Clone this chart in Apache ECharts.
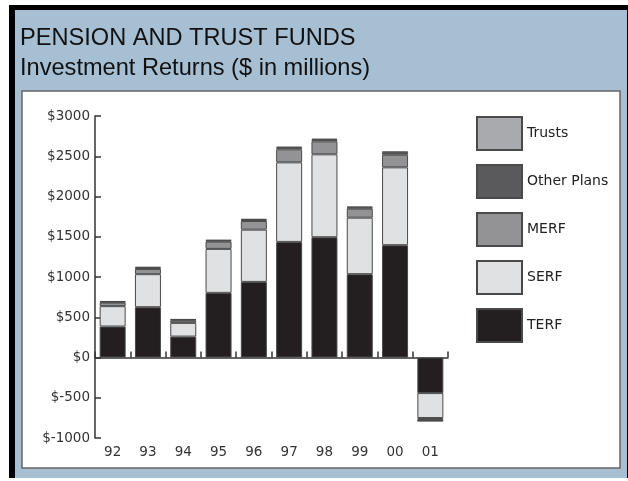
<!DOCTYPE html>
<html>
<head>
<meta charset="utf-8">
<script src="https://cdn.jsdelivr.net/npm/echarts@6/dist/echarts.min.js"></script>
<style>
html,body{margin:0;padding:0;background:#fff;}
#c{width:628px;height:481px;}
</style>
</head>
<body>
<div id="c"></div>
<script>
var years = ['92','93','94','95','96','97','98','99','00','01'];
var terf   = [385, 625, 260, 803, 939, 1436, 1494, 1035, 1395, -442];
var serf   = [253, 410, 170, 546, 649, 988, 1030, 702, 967, -310];
var merf   = [44, 65, 29, 91, 108, 162, 161, 112, 157, -25];
var other  = [10, 15, 10, 12, 15, 20, 20, 15, 30, -8];
var trusts = [8, 10, 7, 8, 10, 12, 12, 9, 7, -5];
var yTicks = [-1000, -500, 0, 500, 1000, 1500, 2000, 2500, 3000];

var font = 'DejaVu Sans';
var chart = echarts.init(document.getElementById('c'));

function s(name, data, color) {
  return {
    name: name, type: 'bar', stack: 'all', data: data, barWidth: 26,
    xAxisIndex: 0,
    itemStyle: { color: color, borderColor: '#4a4a4a', borderWidth: 1 }
  };
}

chart.setOption({
  animation: false,
  graphic: [
    { type: 'rect', z: -10, shape: { x: 9, y: 5, width: 619, height: 476 }, style: { fill: '#000' } },
    { type: 'rect', z: -9, shape: { x: 15, y: 10, width: 612, height: 468 }, style: { fill: '#a7bfd3' } },
    { type: 'rect', z: -8, shape: { x: 22, y: 91, width: 598, height: 377 }, style: { fill: '#fff', stroke: '#666', lineWidth: 1.5 } },
    { type: 'rect', z: -10, shape: { x: 9, y: 478, width: 619, height: 3 }, style: { fill: '#fff' } },
    { type: 'text', z: 5, left: 20, top: 26, style: { text: 'PENSION AND TRUST FUNDS', font: '23.6px "Liberation Sans"', fill: '#111' } },
    { type: 'text', z: 5, left: 20, top: 56, style: { text: 'Investment Returns ($ in millions)', font: '23.6px "Liberation Sans"', fill: '#111' } }
  ],
  legend: {
    orient: 'vertical', left: 476, top: 116, padding: 0,
    itemWidth: 45, itemHeight: 33, itemGap: 13,
    icon: 'rect',
    textStyle: { fontFamily: font, fontSize: 14, color: '#222', lineHeight: 16 },
    data: ['Trusts', 'Other Plans', 'MERF', 'SERF', 'TERF']
  },
  grid: { left: 95, top: 116, width: 353, height: 322 },
  xAxis: [
    {
      type: 'category', data: years, position: 'bottom',
      axisLine: { onZero: true, lineStyle: { color: '#333', width: 1.5 } },
      axisTick: { show: true, interval: 0, inside: true, length: 6, lineStyle: { color: '#333', width: 1.5 } },
      axisLabel: { show: false }
    },
    {
      type: 'category', data: years, position: 'bottom', gridIndex: 0,
      axisLine: { show: false, onZero: false },
      axisTick: { show: false },
      axisLabel: { fontFamily: font, fontSize: 13.5, color: '#333', margin: 7 }
    }
  ],
  yAxis: {
    type: 'value', min: -1000, max: 3000, interval: 500,
    axisLine: { show: true, lineStyle: { color: '#333', width: 1.5 } },
    axisTick: { show: true, inside: true, length: 6, lineStyle: { color: '#333', width: 1.5 } },
    splitLine: { show: false },
    axisLabel: { fontFamily: font, fontSize: 13.5, color: '#333', margin: 5,
      formatter: function (v) { return '$' + v; } }
  },
  series: [
    s('TERF', terf, '#231f20'),
    s('SERF', serf, '#e0e1e3'),
    s('MERF', merf, '#939396'),
    s('Other Plans', other, '#5a5a5c'),
    s('Trusts', trusts, '#a9aaae')
  ]
});
</script>
</body>
</html>
